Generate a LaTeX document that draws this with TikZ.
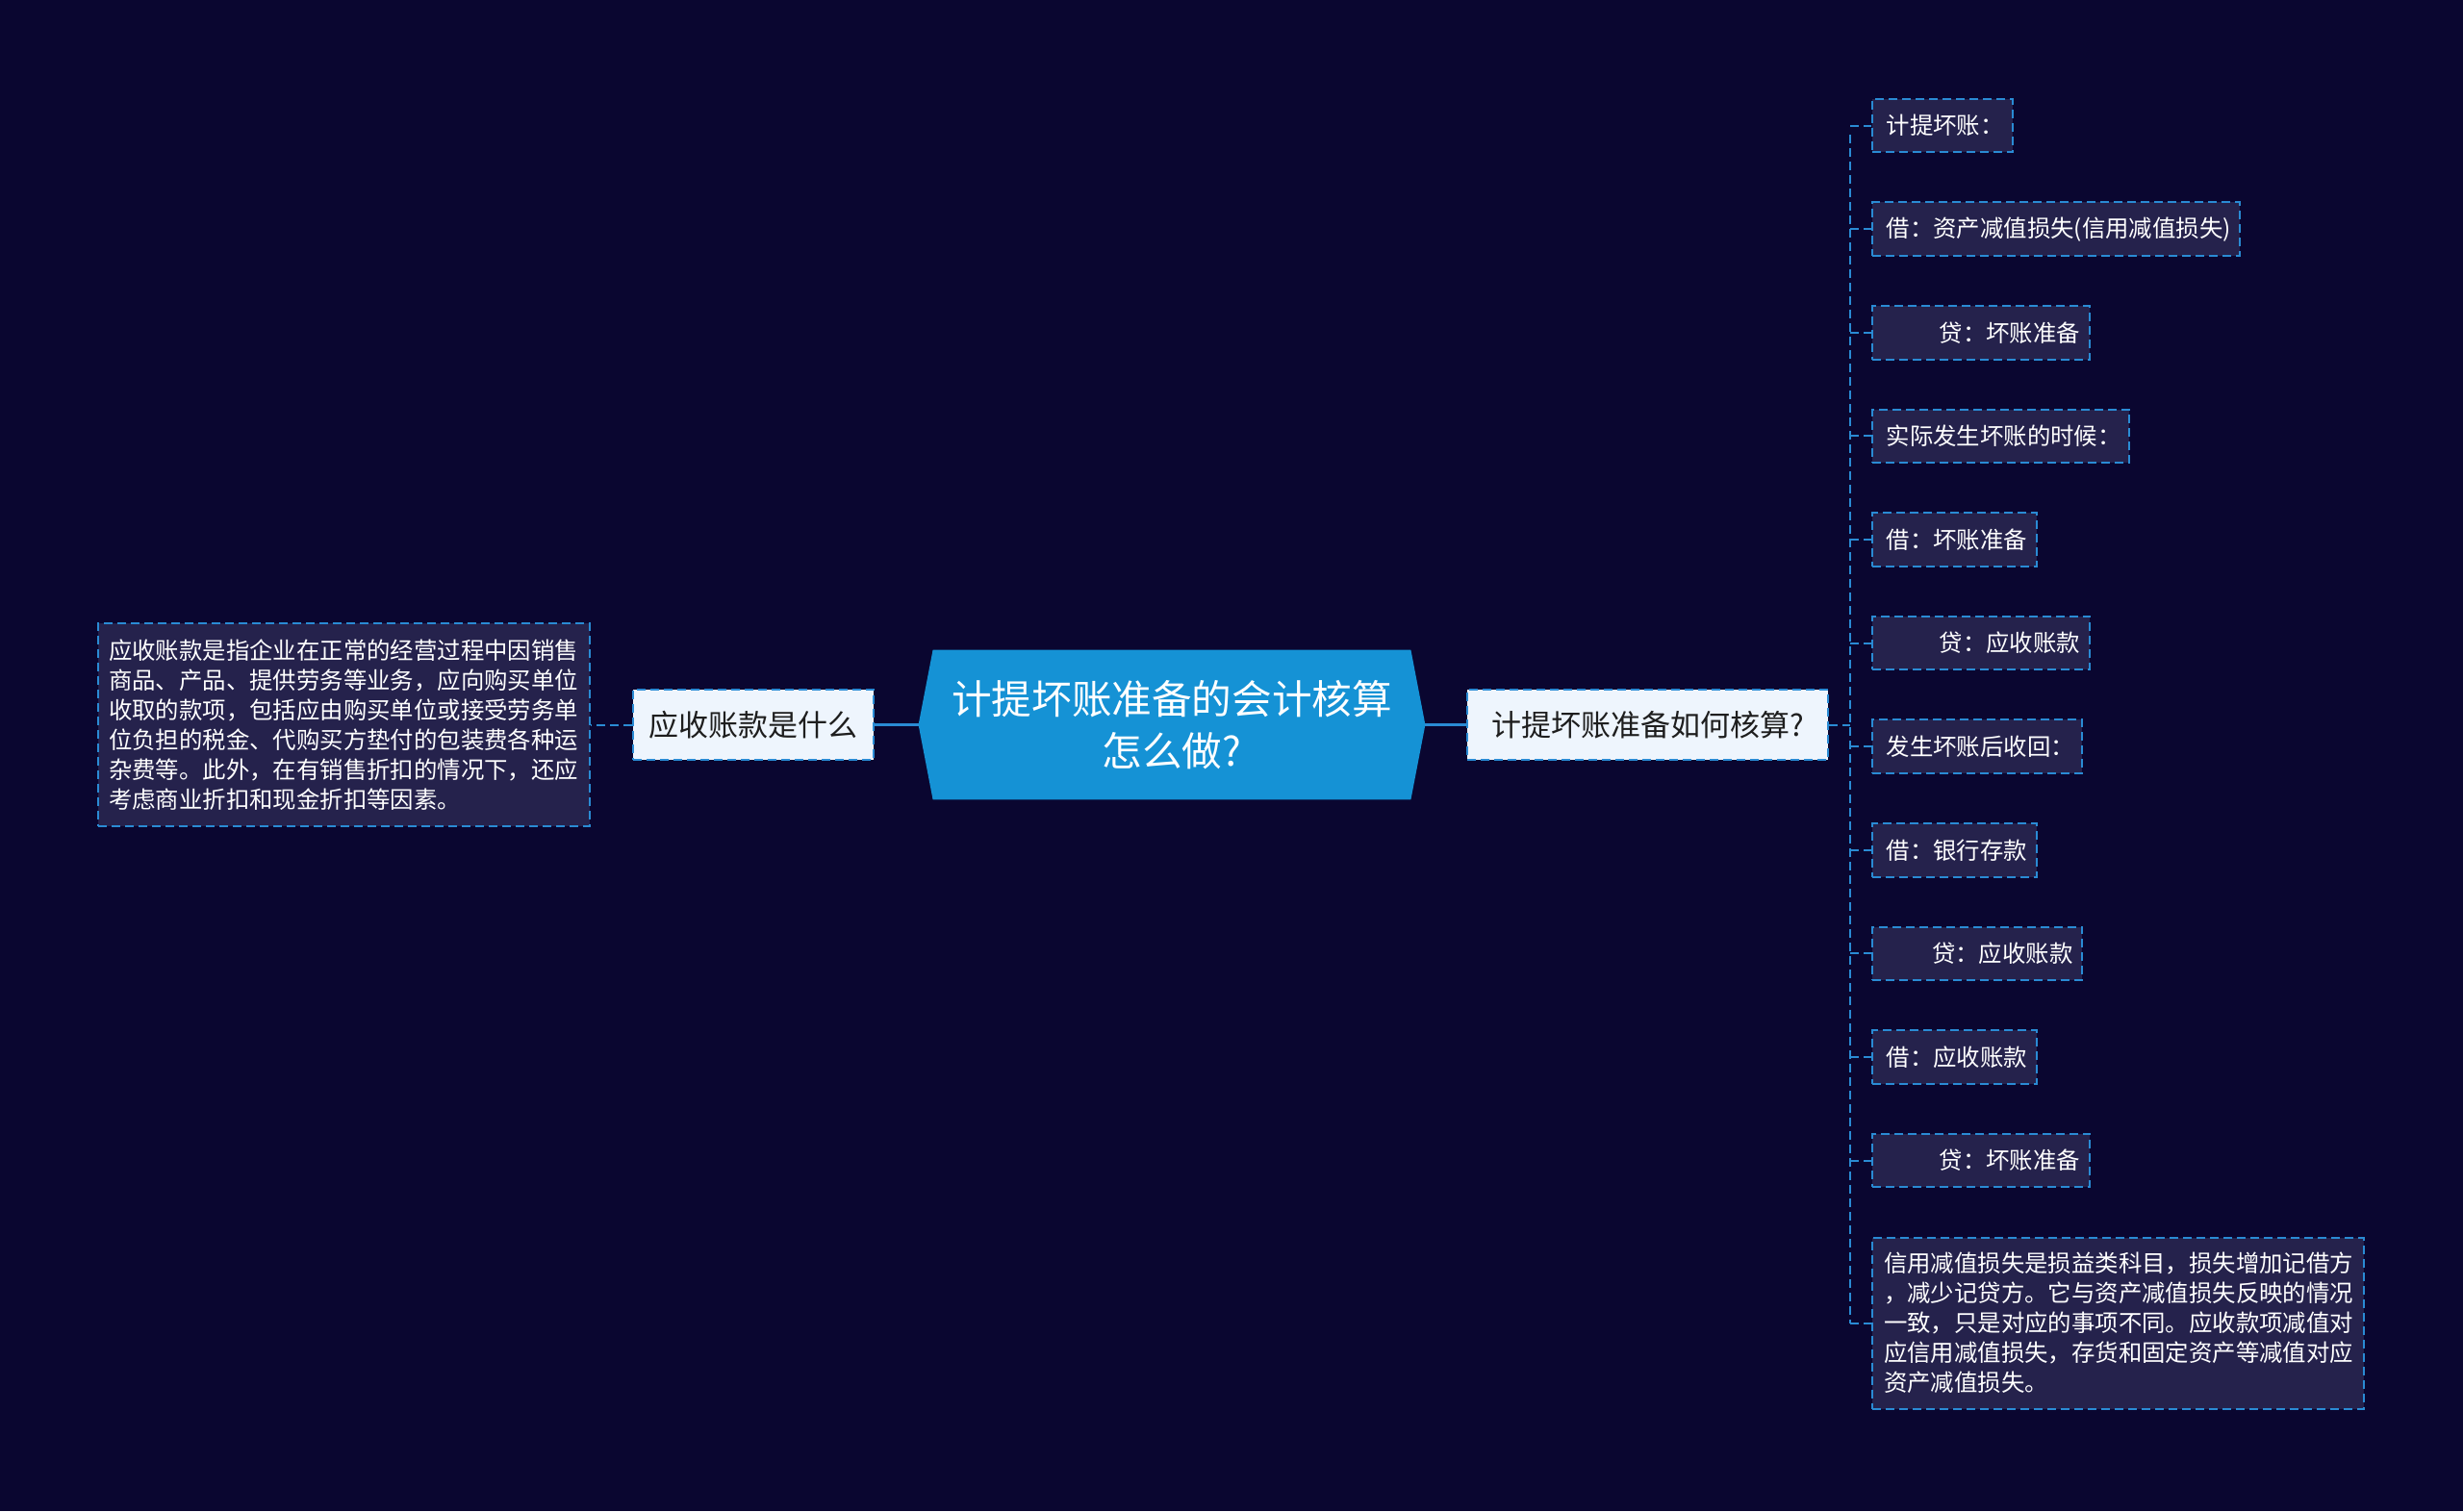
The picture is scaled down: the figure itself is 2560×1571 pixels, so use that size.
\documentclass[tikz,border=0pt]{standalone}
\usepackage{fontspec}
\setmainfont{Noto Sans CJK SC}
\usetikzlibrary{backgrounds}
\definecolor{bgc}{HTML}{0A0630}
\definecolor{lineblue}{HTML}{2A8BD4}
\definecolor{rootblue}{HTML}{1592D5}
\definecolor{leaffill}{HTML}{25224C}
\definecolor{lonefill}{HTML}{EEF5FD}
\definecolor{lonetext}{HTML}{1E1E1E}
\begin{document}
\begin{tikzpicture}[x=0.5pt,y=-0.5pt,
  dconn/.style={draw=lineblue,line width=1pt,dash pattern=on 4.5pt off 2.5pt},
  sconn/.style={draw=lineblue,line width=1.5pt},
  leaf/.style={draw=lineblue,line width=1pt,dash pattern=on 4.5pt off 2.5pt,fill=leaffill,text=white,
    font=\fontsize{12.2}{15.5}\selectfont,anchor=west,minimum height=27.75pt,inner xsep=7.3pt,inner ysep=0pt,
    align=left,text width=#1},
  lone/.style={draw=lineblue,line width=1pt,dash pattern=on 4.5pt off 2.5pt,fill=lonefill,text=lonetext,
    font=\fontsize{15.5}{18}\selectfont,minimum height=36.5pt,minimum width=#1,inner sep=0pt},
  rootnode/.style={text=white,font=\fontsize{20.8}{27}\selectfont,align=center,minimum width=263pt,
    minimum height=77.5pt,inner sep=0pt}
]
\begin{scope}[on background layer]
\fill[bgc] (0,0) rectangle (2560,1571);
\end{scope}
\useasboundingbox (0,0) rectangle (2560,1571);

% root
\node[rootnode] (root) at (1218,753.5) {计提坏账准备的会计核算\\怎么做?};
\begin{scope}[on background layer]
\fill[rootblue] (root.west) -- ([xshift=7.5pt]root.north west) -- ([xshift=-7.5pt]root.north east)
  -- (root.east) -- ([xshift=-7.5pt]root.south east) -- ([xshift=7.5pt]root.south west) -- cycle;
\end{scope}

% level one
\node[lone=125pt] (q1) at (783,753.5) {应收账款是什么};
\node[lone=187.5pt] (q2) at (1712.5,753.5) {计提坏账准备如何核算?};

% left detail
\node[leaf=244.5pt,inner xsep=5.5pt,minimum height=105.5pt,anchor=east] (d1) at (614,753.5)
 {应收账款是指企业在正常的经营过程中因销售\\商品、产品、提供劳务等业务，应向购买单位\\收取的款项，包括应由购买单位或接受劳务单\\位负担的税金、代购买方垫付的包装费各种运\\杂费等。此外，在有销售折扣的情况下，还应\\考虑商业折扣和现金折扣等因素。};

% right leaves
\node[leaf=58.6pt] (r1) at (1945,130.6) {计提坏账：};
\node[leaf=176.4pt] (r2) at (1945,238.2) {借：资产减值损失(信用减值损失)};
\node[leaf=98.4pt] (r3) at (1945,345.8) {\hspace*{27.5pt}贷：坏账准备};
\node[leaf=118.9pt] (r4) at (1945,453.4) {实际发生坏账的时候：};
\node[leaf=70.9pt] (r5) at (1945,561) {借：坏账准备};
\node[leaf=98.4pt] (r6) at (1945,668.6) {\hspace*{27.5pt}贷：应收账款};
\node[leaf=94.4pt] (r7) at (1945,776.2) {发生坏账后收回：};
\node[leaf=70.9pt] (r8) at (1945,883.8) {借：银行存款};
\node[leaf=94.4pt] (r9) at (1945,991.4) {\hspace*{23.7pt}贷：应收账款};
\node[leaf=70.9pt] (r10) at (1945,1099) {借：应收账款};
\node[leaf=98.4pt] (r11) at (1945,1206.6) {\hspace*{27.5pt}贷：坏账准备};
\node[leaf=243.5pt,inner xsep=6pt,minimum height=89pt] (r12) at (1945,1375.5)
 {信用减值损失是损益类科目，损失增加记借方\\，减少记贷方。它与资产减值损失反映的情况\\一致，只是对应的事项不同。应收款项减值对\\应信用减值损失，存货和固定资产等减值对应\\资产减值损失。};

% connectors
\draw[sconn] (root.west) -- (q1.east);
\draw[sconn] (root.east) -- (q2.west);
\draw[dconn] (q1.west) -- (d1.east);
\coordinate (sp) at (1923,753.5);
\coordinate (spt) at (1923,140);
\coordinate (spb) at (1923,1375.5);
\draw[dconn] (q2.east) -- (sp);
\draw[dconn] (spt) -- (spb);
\foreach \n in {r1,r2,r3,r4,r5,r6,r7,r8,r9,r10,r11,r12}{
  \draw[dconn] (\n.west -| sp) -- (\n.west);
}
\end{tikzpicture}
\end{document}
